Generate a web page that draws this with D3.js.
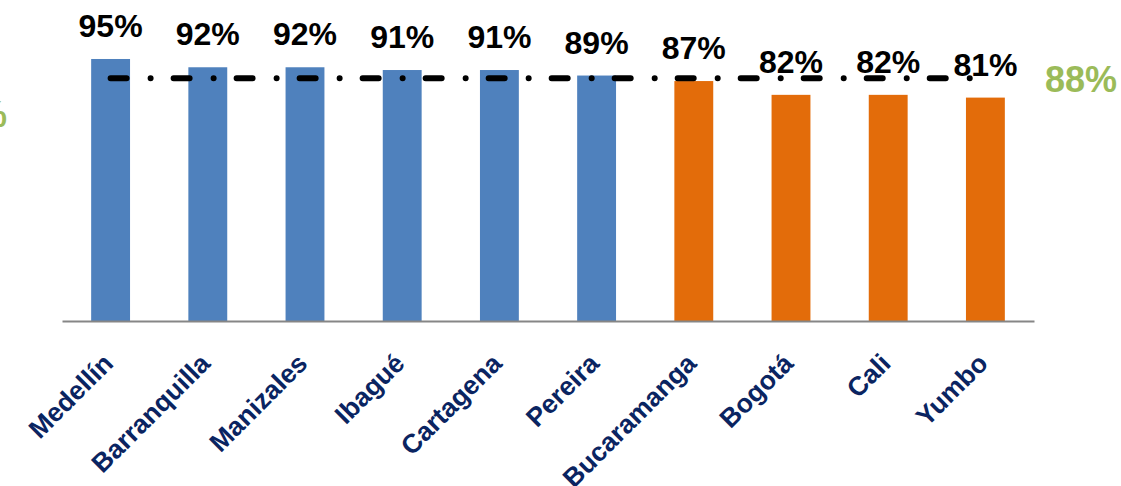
<!DOCTYPE html>
<html>
<head>
<meta charset="utf-8">
<script src="https://cdn.jsdelivr.net/npm/d3@7"></script>
<style>
  html, body { margin: 0; padding: 0; background: #ffffff; }
  svg { display: block; }
</style>
</head>
<body>
<svg id="chart" width="1121" height="486"></svg>
<script>
const categories = ["Medellín", "Barranquilla", "Manizales", "Ibagué", "Cartagena", "Pereira", "Bucaramanga", "Bogotá", "Cali", "Yumbo"];
const values = [0.95, 0.92, 0.92, 0.91, 0.91, 0.89, 0.87, 0.82, 0.82, 0.81];
const groups = ["above", "above", "above", "above", "above", "above", "below", "below", "below", "below"];
const averageValue = 0.88;
const averageLabel = "88%";

const colors = { above: "#4F81BD", below: "#E36C0A" };

const svg = d3.select("#chart");
const fontFam = "'Liberation Sans', Arial, sans-serif";

const x = d3.scaleBand()
  .domain(categories)
  .range([62, 1034])
  .paddingInner(0.6)
  .paddingOuter(0.3);

const y = d3.scaleLinear()
  .domain([0, 1])
  .range([321, 45.2]);

const data = categories.map((c, i) => ({ c, v: values[i], g: groups[i] }));

// bars
svg.append("g").selectAll("rect")
  .data(data)
  .join("rect")
  .attr("x", d => x(d.c))
  .attr("y", d => y(d.v))
  .attr("width", x.bandwidth())
  .attr("height", d => y(0) - y(d.v))
  .attr("fill", d => colors[d.g]);

// x axis
const xAxis = d3.axisBottom(x).tickSize(0).tickSizeOuter(0).tickPadding(0);
const ax = svg.append("g")
  .attr("transform", `translate(0,${y(0)})`)
  .call(xAxis);
ax.select(".domain").attr("stroke", "#868686").attr("stroke-width", 2);
ax.selectAll(".tick text")
  .attr("font-family", fontFam)
  .attr("font-weight", "bold")
  .attr("font-size", 26.5)
  .attr("fill", "#0A2461")
  .attr("text-anchor", "end")
  .attr("dy", 0)
  .attr("transform", "translate(4,44) rotate(-45)");

// average line
const line = d3.line()
  .x(d => x(d) + x.bandwidth() / 2)
  .y(() => y(averageValue));
svg.append("path")
  .datum([categories[0], categories[categories.length - 1]])
  .attr("d", line)
  .attr("fill", "none")
  .attr("stroke", "#000")
  .attr("stroke-width", 6)
  .attr("stroke-linecap", "round")
  .attr("stroke-dasharray", "16,24,0.01,23");

// value labels
svg.append("g").selectAll("text")
  .data(data)
  .join("text")
  .attr("x", d => x(d.c) + x.bandwidth() / 2)
  .attr("y", d => y(d.v) - 22)
  .attr("text-anchor", "middle")
  .attr("font-family", fontFam)
  .attr("font-weight", "bold")
  .attr("font-size", 32)
  .attr("fill", "#000")
  .text(d => d3.format(".0%")(d.v));

// average labels (green)
svg.append("text")
  .attr("x", 1045)
  .attr("y", y(averageValue) + 14)
  .attr("font-family", fontFam)
  .attr("font-weight", "bold")
  .attr("font-size", 36)
  .attr("fill", "#9BBB59")
  .text(averageLabel);

svg.append("text")
  .attr("x", 7)
  .attr("y", y(averageValue) + 49)
  .attr("text-anchor", "end")
  .attr("font-family", fontFam)
  .attr("font-weight", "bold")
  .attr("font-size", 36)
  .attr("fill", "#9BBB59")
  .text(averageLabel);
</script>
</body>
</html>
